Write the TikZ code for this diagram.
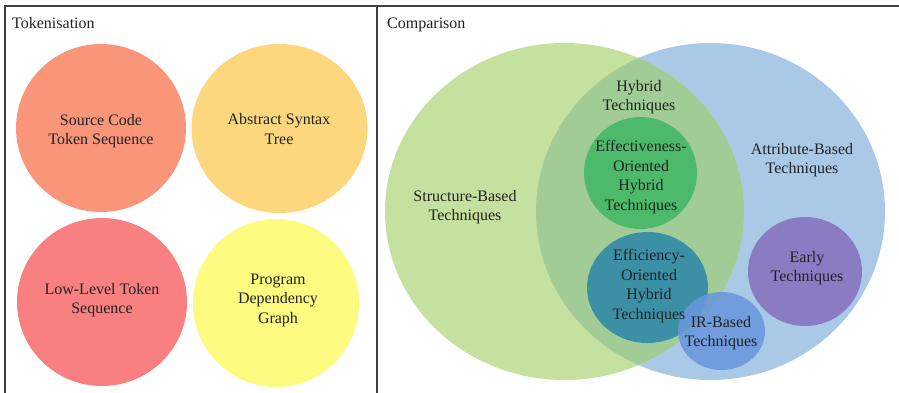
\documentclass[tikz,border=0pt]{standalone}
\usepackage{fontspec}
\setmainfont{Liberation Serif}
\usetikzlibrary{shapes.geometric}
\definecolor{frameC}{HTML}{404040}
\definecolor{txtC}{HTML}{222222}
\definecolor{srcC}{HTML}{F99679}
\definecolor{astC}{HTML}{FCD77E}
\definecolor{lowC}{HTML}{F88080}
\definecolor{pdgC}{HTML}{FDFB80}
\definecolor{strC}{HTML}{C5E1A0}
\definecolor{attC}{HTML}{A9C9E7}
\definecolor{hybC}{HTML}{A2CC95}
\definecolor{effC}{HTML}{4DBA6B}
\definecolor{fcyC}{HTML}{3C90A6}
\definecolor{irC}{HTML}{6A96DC}
\definecolor{earC}{HTML}{8B7BC3}
\tikzset{
  lbl/.style={text=txtC, align=center, font=\fontsize{16}{19.5}\selectfont, inner sep=0pt},
  ttl/.style={text=txtC, anchor=base west, font=\fontsize{16}{19.5}\selectfont, inner sep=0pt},
  frame/.style={draw=frameC, line width=1.3pt},
}
\begin{document}
\begin{tikzpicture}[x=1pt,y=-1pt]
\useasboundingbox (0,0) rectangle (899,392);
% frame
\draw[frame] (5,400) -- (5,6) -- (905,6);
\draw[frame] (377,6) -- (377,400);
\node[ttl] (t1) at (12,28) {Tokenisation};
\node[ttl] (t2) at (387,28) {Comparison};
% tokenisation circles
\fill[srcC] (101,128) ellipse (85 and 84);
\fill[astC] (279.5,128.5) ellipse (88 and 84.5);
\fill[lowC] (102,302) ellipse (85 and 84);
\fill[pdgC] (276,303) ellipse (83 and 84);
\node[lbl] (src) at (101,131) {Source Code\\Token Sequence};
\node[lbl] (ast) at (279,129) {Abstract Syntax\\Tree};
\node[lbl] (low) at (102,300) {Low-Level Token\\Sequence};
\node[lbl] (pdg) at (278,300) {Program\\Dependency\\Graph};
% comparison
\fill[attC] (710.5,211.5) ellipse (174.5 and 168.5);
\fill[strC] (564.5,211.5) ellipse (179.5 and 168.5);
\begin{scope}
  \clip (564.5,211.5) ellipse (179.5 and 168.5);
  \fill[hybC] (710.5,211.5) ellipse (174.5 and 168.5);
\end{scope}
\fill[effC] (640.5,173) ellipse (56.5 and 56);
\fill[fcyC] (647.5,287.5) ellipse (60.5 and 55.5);
\fill[irC, opacity=0.88] (721.5,331) ellipse (43.5 and 39);
\fill[earC] (805,271.5) ellipse (57 and 54.5);
\node[lbl] (str) at (465,207) {Structure-Based\\Techniques};
\node[lbl] (att) at (802,160) {Attribute-Based\\Techniques};
\node[lbl] (hyb) at (639,97) {Hybrid\\Techniques};
\node[lbl] (eff) at (641,177) {Effectiveness-\\Oriented\\Hybrid\\Techniques};
\node[lbl] (fcy) at (649,286) {Efficiency-\\Oriented\\Hybrid\\Techniques};
\node[lbl] (ir) at (721,333) {IR-Based\\Techniques};
\node[lbl] (ear) at (807,268) {Early\\Techniques};
\end{tikzpicture}
\end{document}
